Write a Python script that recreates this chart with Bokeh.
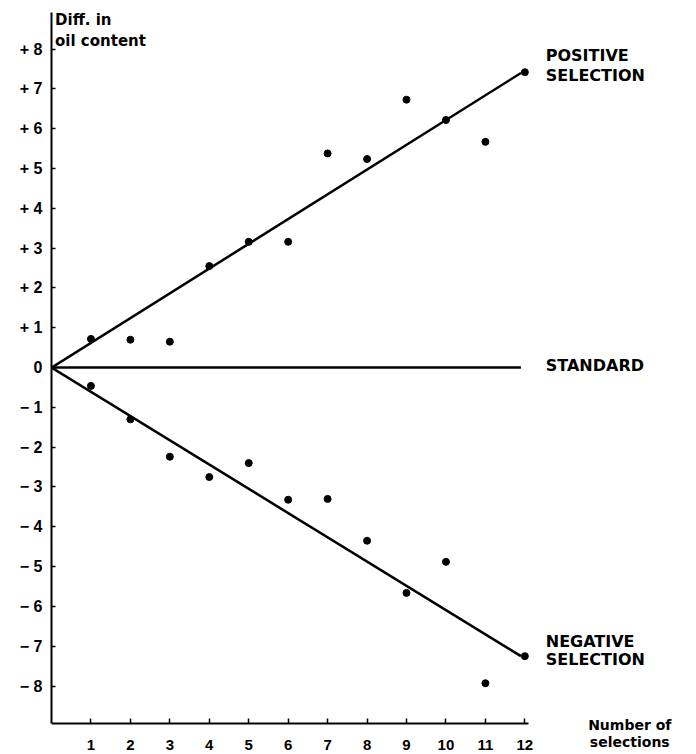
from bokeh.plotting import figure
from bokeh.models import Range1d, FixedTicker, Label, LinearAxis
from bokeh.embed import file_html
from bokeh.resources import INLINE

# ---- data ----
selections = [1, 2, 3, 4, 5, 6, 7, 8, 9, 10, 11, 12]
positive = [0.72, 0.70, 0.65, 2.55, 3.16, 3.16, 5.38, 5.24, 6.73, 6.22, 5.67, 7.42]
negative = [-0.46, -1.30, -2.24, -2.75, -2.40, -3.32, -3.30, -4.35, -5.66, -4.88, -7.93, -7.25]

fit_x = [0, 11.9]
positive_fit = [0, 7.40]
negative_fit = [0, -7.25]
standard = [0, 0]

y_ticks = [8, 7, 6, 5, 4, 3, 2, 1, 0, -1, -2, -3, -4, -5, -6, -7, -8]
y_tick_labels = ["+ 8", "+ 7", "+ 6", "+ 5", "+ 4", "+ 3", "+ 2", "+ 1", "0",
                 "\u2212 1", "\u2212 2", "\u2212 3", "\u2212 4", "\u2212 5",
                 "\u2212 6", "\u2212 7", "\u2212 8"]
x_ticks = selections
x_tick_labels = [str(v) for v in selections]

Y_MIN, Y_MAX = -8.95, 8.92   # axis extents
X_MAX = 12.1

p = figure(width=692, height=752, output_backend="svg", toolbar_location=None,
           x_range=Range1d(0, 16.25), y_range=Range1d(-9.67, Y_MAX),
           x_axis_location=None, y_axis_location=None,
           min_border_left=51, min_border_right=0, min_border_top=12,
           min_border_bottom=0)
p.outline_line_color = None
p.grid.visible = False
p.background_fill_color = "white"
p.border_fill_color = "white"

# x axis, fixed at the bottom of the y axis
xa = LinearAxis(fixed_location=Y_MIN, bounds=(0, X_MAX))
xa.ticker = FixedTicker(ticks=x_ticks)
xa.major_label_overrides = {t: l for t, l in zip(x_ticks, x_tick_labels)}
xa.major_tick_in = 5
xa.major_tick_out = 0
xa.minor_tick_line_color = None
xa.axis_line_width = 2
xa.major_tick_line_width = 1.5
xa.major_label_standoff = 16
xa.major_label_text_font = "Liberation Sans"
xa.major_label_text_font_size = "15px"
xa.major_label_text_font_style = "bold"
xa.major_label_text_color = "black"
xa.axis_line_color = "black"
xa.major_tick_line_color = "black"
p.add_layout(xa, "below")

ya = LinearAxis(bounds=(Y_MIN, Y_MAX))
ya.ticker = FixedTicker(ticks=y_ticks)
ya.major_label_overrides = {t: l for t, l in zip(y_ticks, y_tick_labels)}
ya.major_tick_in = 4
ya.major_tick_out = 0
ya.minor_tick_line_color = None
ya.axis_line_width = 2
ya.major_tick_line_width = 1.5
ya.major_label_standoff = 9
ya.major_label_text_font = "Liberation Sans"
ya.major_label_text_font_size = "16px"
ya.major_label_text_font_style = "bold"
ya.major_label_text_color = "black"
ya.axis_line_color = "black"
ya.major_tick_line_color = "black"
p.add_layout(ya, "left")

# lines
p.line(fit_x, positive_fit, line_color="black", line_width=2.5)
p.line(fit_x, negative_fit, line_color="black", line_width=2.5)
p.line(fit_x, standard, line_color="black", line_width=2.5)

# points
p.scatter(selections, positive, size=7, color="black")
p.scatter(selections, negative, size=7, color="black")

def lab(x, y, text, size="16px", align="left"):
    p.add_layout(Label(x=x, y=y, text=text, text_font="DejaVu Sans",
                       text_font_style="bold", text_font_size=size,
                       text_color="black", text_align=align,
                       text_baseline="middle"))

lab(12.53, 7.84, "POSITIVE")
lab(12.53, 7.34, "SELECTION")
lab(12.53, 0.05, "STANDARD")
lab(12.53, -6.88, "NEGATIVE")
lab(12.53, -7.34, "SELECTION")
lab(14.66, -8.97, "Number of", size="14px", align="center")
lab(14.66, -9.41, "selections", size="14px", align="center")
lab(0.09, 8.72, "Diff. in", size="15px")
lab(0.09, 8.20, "oil content", size="15px")

open("out.html", "w").write(file_html(p, INLINE))
